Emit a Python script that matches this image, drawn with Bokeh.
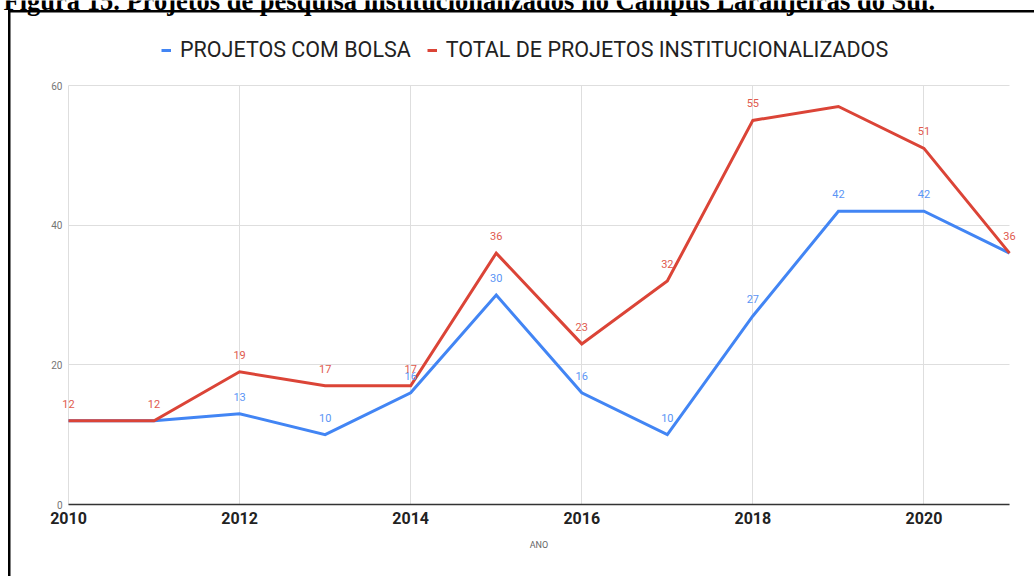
from bokeh.plotting import figure
from bokeh.models import (FixedTicker, Legend, LegendItem, LabelSet, Label,
                          ColumnDataSource, Range1d)
from bokeh.core.properties import value
from bokeh.embed import file_html
from bokeh.resources import INLINE

# ---------------- data ----------------
years = [2010, 2011, 2012, 2013, 2014, 2015, 2016, 2017, 2018, 2019, 2020, 2021]
bolsa = [12, 12, 13, 10, 16, 30, 16, 10, 27, 42, 42, 36]
total = [12, 12, 19, 17, 17, 36, 23, 32, 55, 57, 51, 36]
bolsa_show = [False, False, True, True, True, True, True, True, True, True, True, False]
total_show = [True, True, True, True, True, True, True, True, True, False, True, True]
x_ticks = [2010, 2012, 2014, 2016, 2018, 2020]
y_ticks = [0, 20, 40, 60]
series_names = ["PROJETOS COM BOLSA", "TOTAL DE PROJETOS INSTITUCIONALIZADOS"]
title_text = "Figura 15. Projetos de pesquisa institucionalizados no Campus Laranjeiras do Sul."
x_label = "ANO"

BLUE = "#4285f4"
RED = "#db4437"
BLUE_TXT = "#5b95f5"
RED_TXT = "#e05a4e"

W, H = 1034, 576
# pixel geometry of the data area inside the canvas
PX_L, PX_R, PX_T, PX_B = 68, 1009, 85, 504
X0, X1 = years[0], years[-1]
Y0, Y1 = y_ticks[0], y_ticks[-1]
kx = (PX_R - PX_L) / (X1 - X0)
ky = (PX_B - PX_T) / (Y1 - Y0)

# the frame covers the whole canvas; axes are pinned at data positions
p = figure(width=W, height=H,
           x_range=Range1d(X0 - PX_L / kx, X1 + (W - PX_R) / kx),
           y_range=Range1d(Y0 - (H - PX_B) / ky, Y1 + PX_T / ky),
           output_backend="svg", toolbar_location=None,
           min_border=0, min_border_left=0, min_border_right=0,
           min_border_top=0, min_border_bottom=0)
p.outline_line_color = None
p.background_fill_color = None
p.border_fill_color = None
p.styles = {"background": "linear-gradient(#000,#000) 8px 10px / 100% 2.5px no-repeat, "
                          "linear-gradient(#000,#000) 8px 10px / 2.5px 100% no-repeat, #ffffff"}

# axes
xa = p.xaxis[0]
xa.fixed_location = Y0
xa.ticker = FixedTicker(ticks=x_ticks)
xa.bounds = (X0, X1)
xa.axis_line_color = "#333333"
xa.axis_line_width = 1.5
xa.major_tick_line_color = None
xa.minor_tick_line_color = None
xa.major_tick_out = 0
xa.major_tick_in = 0
xa.major_label_standoff = 7
xa.major_label_text_font = "Roboto"
xa.major_label_text_font_style = "bold"
xa.major_label_text_font_size = "16px"
xa.major_label_text_color = "#222222"
xa.axis_label = x_label
xa.axis_label_text_font = "Roboto"
xa.axis_label_text_font_style = "normal"
xa.axis_label_text_font_size = "9px"
xa.axis_label_text_color = "#666666"
xa.axis_label_standoff = 13

ya = p.yaxis[0]
ya.fixed_location = X0
ya.ticker = FixedTicker(ticks=y_ticks)
ya.bounds = (Y0, Y1)
ya.axis_line_color = None
ya.major_tick_line_color = None
ya.minor_tick_line_color = None
ya.major_tick_out = 0
ya.major_tick_in = 0
ya.major_label_standoff = 6
ya.major_label_text_font = "Roboto"
ya.major_label_text_font_size = "10px"
ya.major_label_text_color = "#757575"

p.xgrid.ticker = FixedTicker(ticks=x_ticks)
p.ygrid.ticker = FixedTicker(ticks=y_ticks)
p.xgrid.grid_line_color = "#dedede"
p.ygrid.grid_line_color = "#dedede"
p.xgrid.cross_bounds = (Y0, Y1)
p.ygrid.cross_bounds = (X0, X1)

# lines
r_b = p.line(years, bolsa, line_color=BLUE, line_width=3, line_join="miter")
r_t = p.line(years, total, line_color=RED, line_width=3, line_join="miter")

# data labels
src_b = ColumnDataSource(dict(
    x=[x for x, s in zip(years, bolsa_show) if s],
    y=[v for v, s in zip(bolsa, bolsa_show) if s],
    t=[str(v) for v, s in zip(bolsa, bolsa_show) if s]))
src_t = ColumnDataSource(dict(
    x=[x for x, s in zip(years, total_show) if s],
    y=[v for v, s in zip(total, total_show) if s],
    t=[str(v) for v, s in zip(total, total_show) if s]))
for src, col in ((src_b, BLUE_TXT), (src_t, RED_TXT)):
    p.add_layout(LabelSet(x="x", y="y", text="t", source=src, y_offset=13,
                          text_align="center", text_baseline="alphabetic",
                          text_font=value("Roboto"), text_font_size="11px",
                          text_color=col))

# legend at the top
legend = Legend(items=[LegendItem(label=series_names[0], renderers=[r_b]),
                       LegendItem(label=series_names[1], renderers=[r_t])],
                orientation="horizontal", location=(161, H - 62),
                padding=0, margin=0, spacing=16, label_standoff=9,
                glyph_width=10, glyph_height=22, label_height=22,
                border_line_color=None, background_fill_alpha=0,
                label_text_font="Roboto", label_text_font_size="21.5px",
                label_text_color="#222222")
p.add_layout(legend, "center")

# figure caption, cut by the top edge as in the source
p.add_layout(Label(x=3, y=H, x_units="screen", y_units="screen",
                   text=title_text, text_baseline="alphabetic",
                   text_font="Liberation Serif", text_font_style="bold",
                   text_font_size="26.5px", text_color="black"))

open("out.html", "w").write(file_html(p, INLINE))
